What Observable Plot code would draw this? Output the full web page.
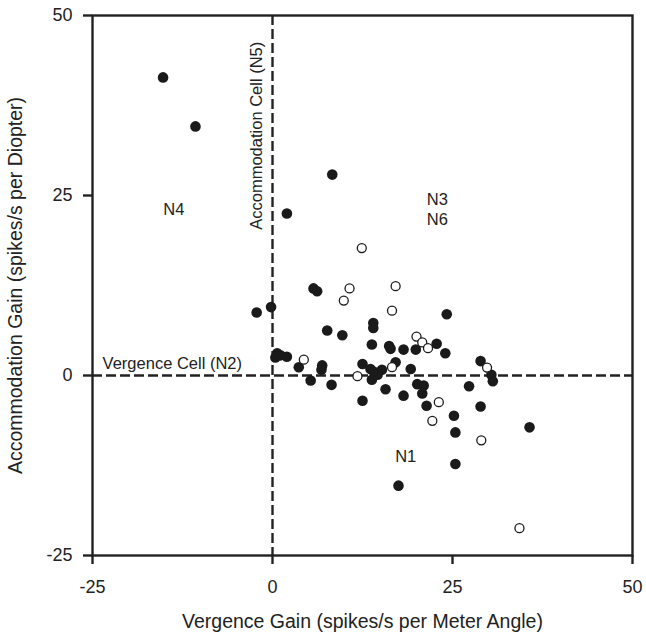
<!DOCTYPE html>
<html>
<head>
<meta charset="utf-8">
<script src="https://cdn.jsdelivr.net/npm/d3@7"></script>
<script src="https://cdn.jsdelivr.net/npm/@observablehq/plot@0.6"></script>
<style>
  html, body { margin: 0; padding: 0; background: #fff; }
  #chart { width: 646px; height: 636px; }
</style>
</head>
<body>
<div id="chart"></div>
<script>
// Filled circles: [vergence gain, accommodation gain]
const filledX = [-15.2, -10.7, 8.3, 2.0, 5.7, 6.2, -2.2, -0.2, 24.2, 14.0, 14.0, 7.6, 9.7, 22.8, 24.0, 13.8, 16.2, 16.4, 18.2, 19.9, 28.9, 0.4, 0.65, 1.1, 2.0, 6.9, 6.8, 3.65, 5.3, 8.2, 12.5, 13.6, 14.1, 13.8, 15.2, 17.1, 19.2, 15.7, 18.2, 20.1, 21.0, 20.8, 12.5, 21.4, 27.3, 25.2, 25.4, 25.4, 17.5, 28.9, 30.4, 30.6, 35.7, 14.6];
const filledY = [41.4, 34.6, 27.9, 22.5, 12.1, 11.7, 8.75, 9.5, 8.5, 7.3, 6.6, 6.25, 5.6, 4.4, 3.1, 4.3, 4.1, 3.7, 3.6, 3.6, 2.0, 2.5, 3.1, 2.8, 2.6, 1.4, 0.8, 1.15, -0.7, -1.3, 1.6, 0.9, 0.5, -0.6, 0.8, 1.85, 0.9, -1.9, -2.8, -1.2, -1.4, -2.5, -3.5, -4.2, -1.5, -5.6, -7.9, -12.3, -15.3, -4.3, 0.1, -0.8, -7.2, 0.1];
// Open circles
const openX = [12.4, 10.7, 9.9, 17.1, 16.6, 20.0, 20.8, 21.6, 4.35, 11.8, 16.6, 23.1, 22.2, 29.0, 29.8, 34.3];
const openY = [17.7, 12.1, 10.4, 12.4, 9.0, 5.4, 4.6, 3.8, 2.2, -0.1, 1.15, -3.7, -6.3, -9.0, 1.1, -21.2];

const tickValues = [-25, 0, 25, 50];
const regionLabels = ["N4", "N3", "N6", "N1"];
const regionX = [-13.7, 22.9, 22.9, 18.5];
const regionY = [23.0, 24.4, 21.6, -11.3];

const filled = filledX.map((x, i) => ({x, y: filledY[i]}));
const open = openX.map((x, i) => ({x, y: openY[i]}));
const regions = regionLabels.map((t, i) => ({t, x: regionX[i], y: regionY[i]}));

const font = "Liberation Sans, Arial, Helvetica, sans-serif";

const chart = Plot.plot({
  width: 646,
  height: 636,
  marginLeft: 92,
  marginRight: 14,
  marginTop: 15,
  marginBottom: 81,
  style: {fontFamily: font, fontSize: "18px", color: "#222", background: "#fff"},
  x: {domain: [-25, 50]},
  y: {domain: [-25, 50]},
  marks: [
    Plot.ruleX([0], {stroke: "#222", strokeWidth: 2.4, strokeDasharray: "10,4"}),
    Plot.ruleY([0], {stroke: "#222", strokeWidth: 2.4, strokeDasharray: "10,4"}),
    Plot.frame({stroke: "#222", strokeWidth: 2.4}),
    Plot.axisX({ticks: tickValues, tickSize: 9, tickPadding: 16, tickFormat: d => String(d), fontSize: 18, strokeWidth: 2.4, label: null}),
    Plot.axisX({ticks: [], label: "Vergence Gain (spikes/s per Meter Angle)", labelAnchor: "center", labelOffset: 72, labelArrow: "none", fontSize: 19.5}),
    Plot.axisY({ticks: tickValues, tickSize: 9, tickPadding: 11, tickFormat: d => String(d), fontSize: 18, strokeWidth: 2.4, label: null}),
    Plot.axisY({ticks: [], label: "Accommodation Gain (spikes/s per Diopter)", labelAnchor: "center", labelOffset: 84, labelArrow: "none", fontSize: 19.5}),
    Plot.dot(filled, {x: "x", y: "y", r: 5.3, fill: "#1a1a1a", stroke: "none"}),
    Plot.dot(open, {x: "x", y: "y", r: 4.5, fill: "#fff", stroke: "#1a1a1a", strokeWidth: 1.3}),
    Plot.text(regions, {x: "x", y: "y", text: "t", fontSize: 16.5, fill: "#222"}),
    Plot.text(["Accommodation Cell (N5)"], {x: -2.2, y: 33.3, text: d => d, rotate: -90, fontSize: 16.5, fill: "#222"}),
    Plot.text(["Vergence Cell (N2)"], {x: -23.6, y: 1.7, text: d => d, textAnchor: "start", fontSize: 16.5, fill: "#222"})
  ]
});
document.getElementById("chart").appendChild(chart);
</script>
</body>
</html>
